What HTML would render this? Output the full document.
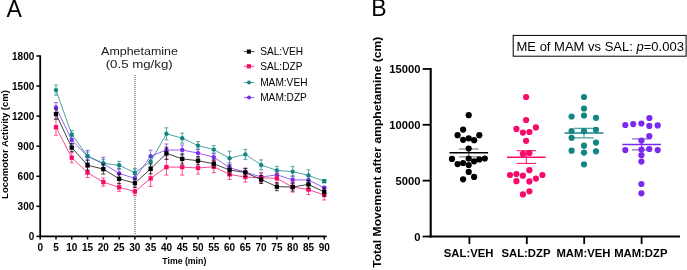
<!DOCTYPE html><html><head><meta charset="utf-8"><style>
html,body{margin:0;padding:0;background:#fff;}
svg{display:block;will-change:transform;}
text{font-family:"Liberation Sans", sans-serif;}
</style></head><body>
<svg width="687" height="270" viewBox="0 0 687 270">
<rect width="687" height="270" fill="#fff"/>
<text x="6.4" y="16.6" font-size="23" fill="#000">A</text>
<text x="371.2" y="16.2" font-size="23" fill="#000">B</text>
<g stroke="#000" fill="none">
<line x1="40.20" y1="55.30" x2="40.20" y2="237.30" stroke-width="1.8"/>
<line x1="39.30" y1="236.40" x2="326.70" y2="236.40" stroke-width="1.6"/>
<line x1="36.4" y1="236.40" x2="40.20" y2="236.40" stroke-width="1.5"/>
<line x1="36.4" y1="206.33" x2="40.20" y2="206.33" stroke-width="1.5"/>
<line x1="36.4" y1="176.26" x2="40.20" y2="176.26" stroke-width="1.5"/>
<line x1="36.4" y1="146.19" x2="40.20" y2="146.19" stroke-width="1.5"/>
<line x1="36.4" y1="116.12" x2="40.20" y2="116.12" stroke-width="1.5"/>
<line x1="36.4" y1="86.05" x2="40.20" y2="86.05" stroke-width="1.5"/>
<line x1="36.4" y1="55.98" x2="40.20" y2="55.98" stroke-width="1.5"/>
<line x1="40.20" y1="236.40" x2="40.20" y2="239.6" stroke-width="1.5"/>
<line x1="55.98" y1="236.40" x2="55.98" y2="239.6" stroke-width="1.5"/>
<line x1="71.76" y1="236.40" x2="71.76" y2="239.6" stroke-width="1.5"/>
<line x1="87.54" y1="236.40" x2="87.54" y2="239.6" stroke-width="1.5"/>
<line x1="103.32" y1="236.40" x2="103.32" y2="239.6" stroke-width="1.5"/>
<line x1="119.10" y1="236.40" x2="119.10" y2="239.6" stroke-width="1.5"/>
<line x1="134.88" y1="236.40" x2="134.88" y2="239.6" stroke-width="1.5"/>
<line x1="150.66" y1="236.40" x2="150.66" y2="239.6" stroke-width="1.5"/>
<line x1="166.44" y1="236.40" x2="166.44" y2="239.6" stroke-width="1.5"/>
<line x1="182.22" y1="236.40" x2="182.22" y2="239.6" stroke-width="1.5"/>
<line x1="198.00" y1="236.40" x2="198.00" y2="239.6" stroke-width="1.5"/>
<line x1="213.78" y1="236.40" x2="213.78" y2="239.6" stroke-width="1.5"/>
<line x1="229.56" y1="236.40" x2="229.56" y2="239.6" stroke-width="1.5"/>
<line x1="245.34" y1="236.40" x2="245.34" y2="239.6" stroke-width="1.5"/>
<line x1="261.12" y1="236.40" x2="261.12" y2="239.6" stroke-width="1.5"/>
<line x1="276.90" y1="236.40" x2="276.90" y2="239.6" stroke-width="1.5"/>
<line x1="292.68" y1="236.40" x2="292.68" y2="239.6" stroke-width="1.5"/>
<line x1="308.46" y1="236.40" x2="308.46" y2="239.6" stroke-width="1.5"/>
<line x1="324.24" y1="236.40" x2="324.24" y2="239.6" stroke-width="1.5"/>
</g>
<g font-size="10" font-weight="bold" fill="#000" text-anchor="end">
<text x="34.3" y="240.00">0</text>
<text x="34.3" y="209.93">300</text>
<text x="34.3" y="179.86">600</text>
<text x="34.3" y="149.79">900</text>
<text x="34.3" y="119.72">1200</text>
<text x="34.3" y="89.65">1500</text>
<text x="34.3" y="59.58">1800</text>
</g>
<g font-size="10" font-weight="bold" fill="#000" text-anchor="middle">
<text x="40.20" y="251.1">0</text>
<text x="55.98" y="251.1">5</text>
<text x="71.76" y="251.1">10</text>
<text x="87.54" y="251.1">15</text>
<text x="103.32" y="251.1">20</text>
<text x="119.10" y="251.1">25</text>
<text x="134.88" y="251.1">30</text>
<text x="150.66" y="251.1">35</text>
<text x="166.44" y="251.1">40</text>
<text x="182.22" y="251.1">45</text>
<text x="198.00" y="251.1">50</text>
<text x="213.78" y="251.1">55</text>
<text x="229.56" y="251.1">60</text>
<text x="245.34" y="251.1">65</text>
<text x="261.12" y="251.1">70</text>
<text x="276.90" y="251.1">75</text>
<text x="292.68" y="251.1">80</text>
<text x="308.46" y="251.1">85</text>
<text x="324.24" y="251.1">90</text>
</g>
<text x="162.3" y="263.6" font-size="8.8" font-weight="bold" textLength="44" lengthAdjust="spacingAndGlyphs">Time (min)</text>
<text transform="translate(7.6,198.9) rotate(-90)" font-size="9.4" font-weight="bold" textLength="108.8" lengthAdjust="spacingAndGlyphs">Locomotor Activity (cm)</text>
<text x="101.1" y="55.0" font-size="11.3" fill="#1a1a1a" textLength="76.8" lengthAdjust="spacingAndGlyphs">Amphetamine</text>
<text x="105.7" y="68.4" font-size="11.5" fill="#1a1a1a" textLength="67.0" lengthAdjust="spacingAndGlyphs">(0.5 mg/kg)</text>
<line x1="135" y1="75" x2="135" y2="235" stroke="#444" stroke-width="1" stroke-dasharray="1 1"/>
<polyline points="55.98,107.50 71.76,140.10 87.54,156.40 103.32,163.80 119.10,173.40 134.88,178.40 150.66,156.20 166.44,150.00 182.22,150.00 198.00,153.10 213.78,157.10 229.56,167.80 245.34,172.00 261.12,177.00 276.90,174.90 292.68,179.80 308.46,180.00 324.24,187.80" fill="none" stroke="#7B29F0" stroke-width="0.75"/>
<g stroke="#7B29F0" stroke-width="0.7" fill="none">
<path d="M55.98 102.50V112.50M53.98 102.50H57.98M53.98 112.50H57.98"/>
<path d="M71.76 136.10V144.10M69.76 136.10H73.76M69.76 144.10H73.76"/>
<path d="M87.54 150.40V162.40M85.54 150.40H89.54M85.54 162.40H89.54"/>
<path d="M103.32 157.30V170.30M101.32 157.30H105.32M101.32 170.30H105.32"/>
<path d="M119.10 168.40V178.40M117.10 168.40H121.10M117.10 178.40H121.10"/>
<path d="M134.88 174.40V182.40M132.88 174.40H136.88M132.88 182.40H136.88"/>
<path d="M150.66 150.20V162.20M148.66 150.20H152.66M148.66 162.20H152.66"/>
<path d="M166.44 144.00V156.00M164.44 144.00H168.44M164.44 156.00H168.44"/>
<path d="M182.22 145.00V155.00M180.22 145.00H184.22M180.22 155.00H184.22"/>
<path d="M198.00 149.10V157.10M196.00 149.10H200.00M196.00 157.10H200.00"/>
<path d="M213.78 153.10V161.10M211.78 153.10H215.78M211.78 161.10H215.78"/>
<path d="M229.56 162.80V172.80M227.56 162.80H231.56M227.56 172.80H231.56"/>
<path d="M245.34 168.00V176.00M243.34 168.00H247.34M243.34 176.00H247.34"/>
<path d="M261.12 173.00V181.00M259.12 173.00H263.12M259.12 181.00H263.12"/>
<path d="M276.90 170.90V178.90M274.90 170.90H278.90M274.90 178.90H278.90"/>
<path d="M292.68 175.80V183.80M290.68 175.80H294.68M290.68 183.80H294.68"/>
<path d="M308.46 176.00V184.00M306.46 176.00H310.46M306.46 184.00H310.46"/>
<path d="M324.24 186.30V189.30M322.24 186.30H326.24M322.24 189.30H326.24"/>
</g>
<g fill="#7B29F0">
<circle cx="55.98" cy="107.50" r="2.2"/>
<circle cx="71.76" cy="140.10" r="2.2"/>
<circle cx="87.54" cy="156.40" r="2.2"/>
<circle cx="103.32" cy="163.80" r="2.2"/>
<circle cx="119.10" cy="173.40" r="2.2"/>
<circle cx="134.88" cy="178.40" r="2.2"/>
<circle cx="150.66" cy="156.20" r="2.2"/>
<circle cx="166.44" cy="150.00" r="2.2"/>
<circle cx="182.22" cy="150.00" r="2.2"/>
<circle cx="198.00" cy="153.10" r="2.2"/>
<circle cx="213.78" cy="157.10" r="2.2"/>
<circle cx="229.56" cy="167.80" r="2.2"/>
<circle cx="245.34" cy="172.00" r="2.2"/>
<circle cx="261.12" cy="177.00" r="2.2"/>
<circle cx="276.90" cy="174.90" r="2.2"/>
<circle cx="292.68" cy="179.80" r="2.2"/>
<circle cx="308.46" cy="180.00" r="2.2"/>
<circle cx="324.24" cy="187.80" r="2.2"/>
</g>
<polyline points="55.98,90.10 71.76,134.40 87.54,156.00 103.32,163.30 119.10,165.30 134.88,172.70 150.66,161.60 166.44,133.80 182.22,138.20 198.00,145.60 213.78,149.60 229.56,158.20 245.34,154.40 261.12,164.90 276.90,170.40 292.68,171.60 308.46,175.40 324.24,181.20" fill="none" stroke="#138583" stroke-width="0.75"/>
<g stroke="#138583" stroke-width="0.7" fill="none">
<path d="M55.98 85.10V95.10M53.98 85.10H57.98M53.98 95.10H57.98"/>
<path d="M71.76 130.40V138.40M69.76 130.40H73.76M69.76 138.40H73.76"/>
<path d="M87.54 152.00V160.00M85.54 152.00H89.54M85.54 160.00H89.54"/>
<path d="M103.32 159.30V167.30M101.32 159.30H105.32M101.32 167.30H105.32"/>
<path d="M119.10 161.30V169.30M117.10 161.30H121.10M117.10 169.30H121.10"/>
<path d="M134.88 168.70V176.70M132.88 168.70H136.88M132.88 176.70H136.88"/>
<path d="M150.66 156.60V166.60M148.66 156.60H152.66M148.66 166.60H152.66"/>
<path d="M166.44 127.80V139.80M164.44 127.80H168.44M164.44 139.80H168.44"/>
<path d="M182.22 133.20V143.20M180.22 133.20H184.22M180.22 143.20H184.22"/>
<path d="M198.00 141.60V149.60M196.00 141.60H200.00M196.00 149.60H200.00"/>
<path d="M213.78 145.60V153.60M211.78 145.60H215.78M211.78 153.60H215.78"/>
<path d="M229.56 151.20V165.20M227.56 151.20H231.56M227.56 165.20H231.56"/>
<path d="M245.34 149.40V159.40M243.34 149.40H247.34M243.34 159.40H247.34"/>
<path d="M261.12 159.90V169.90M259.12 159.90H263.12M259.12 169.90H263.12"/>
<path d="M276.90 166.40V174.40M274.90 166.40H278.90M274.90 174.40H278.90"/>
<path d="M292.68 166.60V176.60M290.68 166.60H294.68M290.68 176.60H294.68"/>
<path d="M308.46 169.90V180.90M306.46 169.90H310.46M306.46 180.90H310.46"/>
<path d="M324.24 179.70V182.70M322.24 179.70H326.24M322.24 182.70H326.24"/>
</g>
<g fill="#138583">
<circle cx="55.98" cy="90.10" r="2.2"/>
<circle cx="71.76" cy="134.40" r="2.2"/>
<circle cx="87.54" cy="156.00" r="2.2"/>
<circle cx="103.32" cy="163.30" r="2.2"/>
<circle cx="119.10" cy="165.30" r="2.2"/>
<circle cx="134.88" cy="172.70" r="2.2"/>
<circle cx="150.66" cy="161.60" r="2.2"/>
<circle cx="166.44" cy="133.80" r="2.2"/>
<circle cx="182.22" cy="138.20" r="2.2"/>
<circle cx="198.00" cy="145.60" r="2.2"/>
<circle cx="213.78" cy="149.60" r="2.2"/>
<circle cx="229.56" cy="158.20" r="2.2"/>
<circle cx="245.34" cy="154.40" r="2.2"/>
<circle cx="261.12" cy="164.90" r="2.2"/>
<circle cx="276.90" cy="170.40" r="2.2"/>
<circle cx="292.68" cy="171.60" r="2.2"/>
<circle cx="308.46" cy="175.40" r="2.2"/>
<rect x="322.09" y="179.05" width="4.3" height="4.3" rx="0.6"/>
</g>
<polyline points="55.98,127.20 71.76,157.70 87.54,172.60 103.32,182.10 119.10,187.30 134.88,191.50 150.66,178.40 166.44,167.10 182.22,167.10 198.00,168.00 213.78,166.70 229.56,174.40 245.34,177.10 261.12,177.80 276.90,178.40 292.68,187.10 308.46,189.60 324.24,195.00" fill="none" stroke="#F80A6A" stroke-width="0.75"/>
<g stroke="#F80A6A" stroke-width="0.7" fill="none">
<path d="M55.98 119.20V135.20M53.98 119.20H57.98M53.98 135.20H57.98"/>
<path d="M71.76 152.70V162.70M69.76 152.70H73.76M69.76 162.70H73.76"/>
<path d="M87.54 167.60V177.60M85.54 167.60H89.54M85.54 177.60H89.54"/>
<path d="M103.32 178.10V186.10M101.32 178.10H105.32M101.32 186.10H105.32"/>
<path d="M119.10 183.30V191.30M117.10 183.30H121.10M117.10 191.30H121.10"/>
<path d="M134.88 187.50V195.50M132.88 187.50H136.88M132.88 195.50H136.88"/>
<path d="M150.66 170.40V186.40M148.66 170.40H152.66M148.66 186.40H152.66"/>
<path d="M166.44 159.10V175.10M164.44 159.10H168.44M164.44 175.10H168.44"/>
<path d="M182.22 159.10V175.10M180.22 159.10H184.22M180.22 175.10H184.22"/>
<path d="M198.00 162.00V174.00M196.00 162.00H200.00M196.00 174.00H200.00"/>
<path d="M213.78 160.70V172.70M211.78 160.70H215.78M211.78 172.70H215.78"/>
<path d="M229.56 169.40V179.40M227.56 169.40H231.56M227.56 179.40H231.56"/>
<path d="M245.34 172.10V182.10M243.34 172.10H247.34M243.34 182.10H247.34"/>
<path d="M261.12 172.80V182.80M259.12 172.80H263.12M259.12 182.80H263.12"/>
<path d="M276.90 173.40V183.40M274.90 173.40H278.90M274.90 183.40H278.90"/>
<path d="M292.68 182.10V192.10M290.68 182.10H294.68M290.68 192.10H294.68"/>
<path d="M308.46 184.60V194.60M306.46 184.60H310.46M306.46 194.60H310.46"/>
<path d="M324.24 190.00V200.00M322.24 190.00H326.24M322.24 200.00H326.24"/>
</g>
<g fill="#F80A6A">
<rect x="53.83" y="125.05" width="4.3" height="4.3" rx="0"/>
<rect x="69.61" y="155.55" width="4.3" height="4.3" rx="0"/>
<rect x="85.39" y="170.45" width="4.3" height="4.3" rx="0"/>
<rect x="101.17" y="179.95" width="4.3" height="4.3" rx="0"/>
<rect x="116.95" y="185.15" width="4.3" height="4.3" rx="0"/>
<rect x="132.73" y="189.35" width="4.3" height="4.3" rx="0"/>
<rect x="148.51" y="176.25" width="4.3" height="4.3" rx="0"/>
<rect x="164.29" y="164.95" width="4.3" height="4.3" rx="0"/>
<rect x="180.07" y="164.95" width="4.3" height="4.3" rx="0"/>
<rect x="195.85" y="165.85" width="4.3" height="4.3" rx="0"/>
<rect x="211.63" y="164.55" width="4.3" height="4.3" rx="0"/>
<rect x="227.41" y="172.25" width="4.3" height="4.3" rx="0"/>
<rect x="243.19" y="174.95" width="4.3" height="4.3" rx="0"/>
<rect x="258.97" y="175.65" width="4.3" height="4.3" rx="0"/>
<rect x="274.75" y="176.25" width="4.3" height="4.3" rx="0"/>
<rect x="290.53" y="184.95" width="4.3" height="4.3" rx="0"/>
<rect x="306.31" y="187.45" width="4.3" height="4.3" rx="0"/>
<rect x="322.09" y="192.85" width="4.3" height="4.3" rx="0"/>
</g>
<polyline points="55.98,114.10 71.76,147.60 87.54,165.20 103.32,169.10 119.10,178.80 134.88,183.10 150.66,168.90 166.44,153.30 182.22,158.90 198.00,160.70 213.78,163.80 229.56,170.00 245.34,172.50 261.12,179.50 276.90,186.70 292.68,187.00 308.46,184.40 324.24,192.00" fill="none" stroke="#000000" stroke-width="0.75"/>
<g stroke="#000000" stroke-width="0.7" fill="none">
<path d="M55.98 109.10V119.10M53.98 109.10H57.98M53.98 119.10H57.98"/>
<path d="M71.76 143.60V151.60M69.76 143.60H73.76M69.76 151.60H73.76"/>
<path d="M87.54 160.20V170.20M85.54 160.20H89.54M85.54 170.20H89.54"/>
<path d="M103.32 164.10V174.10M101.32 164.10H105.32M101.32 174.10H105.32"/>
<path d="M119.10 173.80V183.80M117.10 173.80H121.10M117.10 183.80H121.10"/>
<path d="M134.88 179.10V187.10M132.88 179.10H136.88M132.88 187.10H136.88"/>
<path d="M150.66 163.90V173.90M148.66 163.90H152.66M148.66 173.90H152.66"/>
<path d="M166.44 147.30V159.30M164.44 147.30H168.44M164.44 159.30H168.44"/>
<path d="M182.22 153.90V163.90M180.22 153.90H184.22M180.22 163.90H184.22"/>
<path d="M198.00 156.70V164.70M196.00 156.70H200.00M196.00 164.70H200.00"/>
<path d="M213.78 159.80V167.80M211.78 159.80H215.78M211.78 167.80H215.78"/>
<path d="M229.56 165.00V175.00M227.56 165.00H231.56M227.56 175.00H231.56"/>
<path d="M245.34 168.50V176.50M243.34 168.50H247.34M243.34 176.50H247.34"/>
<path d="M261.12 175.50V183.50M259.12 175.50H263.12M259.12 183.50H263.12"/>
<path d="M276.90 182.70V190.70M274.90 182.70H278.90M274.90 190.70H278.90"/>
<path d="M292.68 183.00V191.00M290.68 183.00H294.68M290.68 191.00H294.68"/>
<path d="M308.46 180.40V188.40M306.46 180.40H310.46M306.46 188.40H310.46"/>
<path d="M324.24 188.00V196.00M322.24 188.00H326.24M322.24 196.00H326.24"/>
</g>
<g fill="#000000">
<rect x="53.83" y="111.95" width="4.3" height="4.3" rx="0"/>
<rect x="69.61" y="145.45" width="4.3" height="4.3" rx="0"/>
<rect x="85.39" y="163.05" width="4.3" height="4.3" rx="0"/>
<rect x="101.17" y="166.95" width="4.3" height="4.3" rx="0"/>
<rect x="116.95" y="176.65" width="4.3" height="4.3" rx="0"/>
<rect x="132.73" y="180.95" width="4.3" height="4.3" rx="0"/>
<rect x="148.51" y="166.75" width="4.3" height="4.3" rx="0"/>
<rect x="164.29" y="151.15" width="4.3" height="4.3" rx="0"/>
<rect x="180.07" y="156.75" width="4.3" height="4.3" rx="0"/>
<rect x="195.85" y="158.55" width="4.3" height="4.3" rx="0"/>
<rect x="211.63" y="161.65" width="4.3" height="4.3" rx="0"/>
<rect x="227.41" y="167.85" width="4.3" height="4.3" rx="0"/>
<rect x="243.19" y="170.35" width="4.3" height="4.3" rx="0"/>
<rect x="258.97" y="177.35" width="4.3" height="4.3" rx="0"/>
<rect x="274.75" y="184.55" width="4.3" height="4.3" rx="0"/>
<rect x="290.53" y="184.85" width="4.3" height="4.3" rx="0"/>
<rect x="306.31" y="182.25" width="4.3" height="4.3" rx="0"/>
<rect x="322.09" y="189.85" width="4.3" height="4.3" rx="0"/>
</g>
<line x1="243.9" y1="51.60" x2="254.4" y2="51.60" stroke="#000000" stroke-width="0.75"/>
<rect x="246.85" y="49.50" width="4.1" height="4.2" fill="#000000"/>
<text x="260.2" y="55.10" font-size="10.15" fill="#000">SAL:VEH</text>
<line x1="243.9" y1="66.30" x2="254.4" y2="66.30" stroke="#F80A6A" stroke-width="0.75"/>
<rect x="246.85" y="64.20" width="4.1" height="4.2" fill="#F80A6A"/>
<text x="260.2" y="69.80" font-size="10.15" fill="#000">SAL:DZP</text>
<line x1="243.9" y1="82.50" x2="254.4" y2="82.50" stroke="#138583" stroke-width="0.75"/>
<circle cx="249" cy="82.50" r="2" fill="#138583"/>
<text x="260.2" y="86.00" font-size="10.15" fill="#000">MAM:VEH</text>
<line x1="243.9" y1="97.60" x2="254.4" y2="97.60" stroke="#7B29F0" stroke-width="0.75"/>
<circle cx="249" cy="97.60" r="2" fill="#7B29F0"/>
<text x="260.2" y="101.10" font-size="10.15" fill="#000">MAM:DZP</text>
<g stroke="#000" fill="none">
<line x1="430.70" y1="68.00" x2="430.70" y2="237.50" stroke-width="2.1"/>
<line x1="429.70" y1="236.50" x2="680" y2="236.50" stroke-width="2"/>
<line x1="422.6" y1="236.50" x2="430.70" y2="236.50" stroke-width="1.8"/>
<line x1="422.6" y1="180.65" x2="430.70" y2="180.65" stroke-width="1.8"/>
<line x1="422.6" y1="124.80" x2="430.70" y2="124.80" stroke-width="1.8"/>
<line x1="422.6" y1="68.95" x2="430.70" y2="68.95" stroke-width="1.8"/>
<line x1="469.40" y1="236.50" x2="469.40" y2="244.1" stroke-width="1.8"/>
<line x1="526.80" y1="236.50" x2="526.80" y2="244.1" stroke-width="1.8"/>
<line x1="584.20" y1="236.50" x2="584.20" y2="244.1" stroke-width="1.8"/>
<line x1="641.60" y1="236.50" x2="641.60" y2="244.1" stroke-width="1.8"/>
</g>
<g font-size="11.2" font-weight="bold" fill="#000" text-anchor="end">
<text x="420.4" y="240.60">0</text>
<text x="420.4" y="184.75">5000</text>
<text x="420.4" y="128.90">10000</text>
<text x="420.4" y="73.05">15000</text>
</g>
<g font-size="11.3" font-weight="bold" fill="#000" text-anchor="middle">
<text x="468.60" y="256.8">SAL:VEH</text>
<text x="526.00" y="256.8">SAL:DZP</text>
<text x="583.40" y="256.8">MAM:VEH</text>
<text x="640.80" y="256.8">MAM:DZP</text>
</g>
<text transform="translate(380.7,267.8) rotate(-90)" font-size="11.3" font-weight="bold" textLength="231.2" lengthAdjust="spacingAndGlyphs">Total Movement after amphetamine (cm)</text>
<rect x="513.2" y="35.4" width="172.9" height="20.8" fill="none" stroke="#000" stroke-width="1"/>
<text x="516.5" y="51.1" font-size="12.6" fill="#000" textLength="167.4" lengthAdjust="spacingAndGlyphs">ME of MAM vs SAL: <tspan font-style="italic">p</tspan>=0.003</text>
<g stroke="#9a9a9a" fill="none">
<path d="M459.10 149.00H478.50M459.10 156.70H478.50M468.80 149.00V156.70" stroke-width="1.40"/>
</g>
<g fill="#000000">
<circle cx="468.70" cy="115.20" r="3.1"/>
<circle cx="463.10" cy="129.60" r="3.1"/>
<circle cx="457.60" cy="135.20" r="3.1"/>
<circle cx="479.30" cy="135.20" r="3.1"/>
<circle cx="463.10" cy="139.80" r="3.1"/>
<circle cx="468.70" cy="138.30" r="3.1"/>
<circle cx="474.10" cy="140.20" r="3.1"/>
<circle cx="468.70" cy="148.50" r="3.1"/>
<circle cx="452.00" cy="158.90" r="3.1"/>
<circle cx="457.60" cy="164.10" r="3.1"/>
<circle cx="463.10" cy="163.00" r="3.1"/>
<circle cx="468.70" cy="158.50" r="3.1"/>
<circle cx="468.70" cy="165.00" r="3.1"/>
<circle cx="474.10" cy="161.30" r="3.1"/>
<circle cx="479.30" cy="159.40" r="3.1"/>
<circle cx="484.80" cy="158.50" r="3.1"/>
<circle cx="468.70" cy="171.90" r="3.1"/>
<circle cx="474.10" cy="176.90" r="3.1"/>
<circle cx="463.10" cy="179.30" r="3.1"/>
</g>
<line x1="449.50" y1="152.80" x2="488.10" y2="152.80" stroke="#000000" stroke-width="1.6"/>
<g stroke="#F80A6A" fill="none">
<path d="M516.60 150.70H536.00M516.60 163.40H536.00M526.30 150.70V163.40" stroke-width="1.00"/>
</g>
<g fill="#F80A6A">
<circle cx="526.10" cy="97.00" r="3.1"/>
<circle cx="526.10" cy="120.00" r="3.1"/>
<circle cx="516.40" cy="128.90" r="3.1"/>
<circle cx="522.90" cy="132.60" r="3.1"/>
<circle cx="529.40" cy="132.00" r="3.1"/>
<circle cx="535.90" cy="127.40" r="3.1"/>
<circle cx="526.10" cy="140.80" r="3.1"/>
<circle cx="522.90" cy="153.90" r="3.1"/>
<circle cx="529.40" cy="153.00" r="3.1"/>
<circle cx="529.40" cy="170.20" r="3.1"/>
<circle cx="510.00" cy="175.00" r="3.1"/>
<circle cx="516.40" cy="174.00" r="3.1"/>
<circle cx="522.90" cy="175.70" r="3.1"/>
<circle cx="542.40" cy="175.00" r="3.1"/>
<circle cx="516.40" cy="181.20" r="3.1"/>
<circle cx="529.40" cy="181.40" r="3.1"/>
<circle cx="535.90" cy="178.60" r="3.1"/>
<circle cx="529.40" cy="191.30" r="3.1"/>
<circle cx="522.90" cy="194.40" r="3.1"/>
</g>
<line x1="507.00" y1="157.20" x2="545.60" y2="157.20" stroke="#F80A6A" stroke-width="1.6"/>
<g stroke="#4a9e9c" fill="none">
<path d="M574.30 128.30H593.70M574.30 137.80H593.70M584.00 128.30V137.80" stroke-width="1.20"/>
</g>
<g fill="#138583">
<circle cx="584.00" cy="97.00" r="3.1"/>
<circle cx="584.00" cy="108.50" r="3.1"/>
<circle cx="584.00" cy="115.60" r="3.1"/>
<circle cx="571.60" cy="116.50" r="3.1"/>
<circle cx="596.00" cy="117.80" r="3.1"/>
<circle cx="571.60" cy="131.10" r="3.1"/>
<circle cx="584.00" cy="131.10" r="3.1"/>
<circle cx="596.00" cy="129.80" r="3.1"/>
<circle cx="571.60" cy="137.80" r="3.1"/>
<circle cx="596.00" cy="142.60" r="3.1"/>
<circle cx="584.00" cy="145.70" r="3.1"/>
<circle cx="571.60" cy="150.70" r="3.1"/>
<circle cx="596.00" cy="151.30" r="3.1"/>
<circle cx="584.00" cy="152.60" r="3.1"/>
<circle cx="584.00" cy="164.30" r="3.1"/>
</g>
<line x1="564.70" y1="133.00" x2="603.30" y2="133.00" stroke="#138583" stroke-width="1.6"/>
<g stroke="#8a6cd0" fill="none">
<path d="M631.90 138.90H651.30M631.90 149.80H651.30M641.60 138.90V149.80" stroke-width="1.20"/>
</g>
<g fill="#7B29F0">
<circle cx="649.40" cy="118.00" r="3.1"/>
<circle cx="625.30" cy="125.00" r="3.1"/>
<circle cx="633.20" cy="124.10" r="3.1"/>
<circle cx="641.40" cy="123.50" r="3.1"/>
<circle cx="649.30" cy="125.90" r="3.1"/>
<circle cx="657.70" cy="125.40" r="3.1"/>
<circle cx="649.30" cy="136.10" r="3.1"/>
<circle cx="641.40" cy="140.60" r="3.1"/>
<circle cx="625.30" cy="150.10" r="3.1"/>
<circle cx="641.40" cy="149.50" r="3.1"/>
<circle cx="649.30" cy="149.00" r="3.1"/>
<circle cx="657.70" cy="150.10" r="3.1"/>
<circle cx="641.40" cy="155.20" r="3.1"/>
<circle cx="641.40" cy="161.60" r="3.1"/>
<circle cx="641.40" cy="184.00" r="3.1"/>
<circle cx="641.40" cy="193.30" r="3.1"/>
</g>
<line x1="622.30" y1="144.50" x2="660.90" y2="144.50" stroke="#7B29F0" stroke-width="1.6"/>
</svg></body></html>
